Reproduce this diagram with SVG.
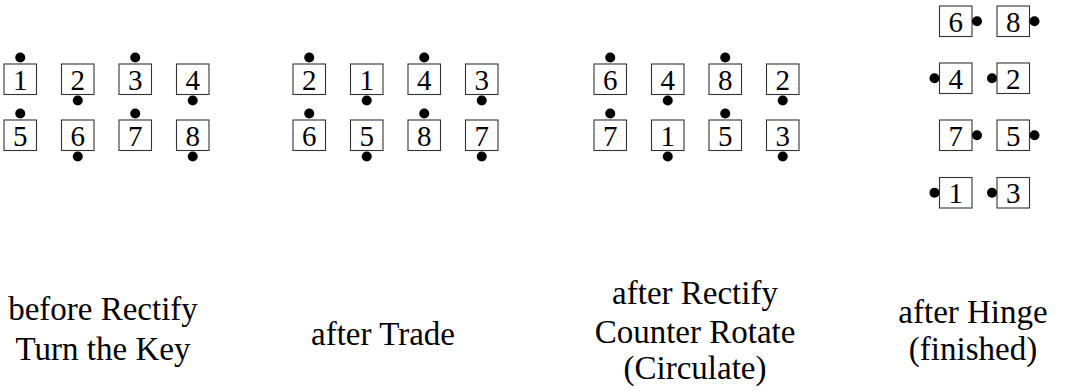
<svg xmlns="http://www.w3.org/2000/svg" width="1068" height="391" viewBox="0 0 1068 391">
<style>
.box{fill:#fff;stroke:#333;stroke-width:1.1}
.num{font-family:"Liberation Serif","DejaVu Serif",serif;font-size:29px;text-anchor:middle;fill:#000}
.dot{fill:#000}
.lbl{font-family:"Liberation Serif","DejaVu Serif",serif;font-size:33px;text-anchor:middle;fill:#000}
</style>
<defs>
<rect id="bx" class="box" x="0" y="0" width="32.5" height="30.5"/>
<circle id="dt" class="dot" cx="16.25" cy="-6.5" r="5"/>
<circle id="db" class="dot" cx="16.25" cy="36.5" r="5"/>
<circle id="dl" class="dot" cx="-5" cy="15.25" r="5"/>
<circle id="dr" class="dot" cx="37.5" cy="15.25" r="5"/>
</defs>
<g id="connectors"/>
<!-- group 1: before Rectify Turn the Key -->
<g id="g1-n1" transform="translate(4,64)"><use href="#bx"/><use href="#dt"/><text class="num" x="16.25" y="25.5">1</text></g>
<g id="g1-n2" transform="translate(61.5,64)"><use href="#bx"/><use href="#db"/><text class="num" x="16.25" y="25.5">2</text></g>
<g id="g1-n3" transform="translate(119,64)"><use href="#bx"/><use href="#dt"/><text class="num" x="16.25" y="25.5">3</text></g>
<g id="g1-n4" transform="translate(176.5,64)"><use href="#bx"/><use href="#db"/><text class="num" x="16.25" y="25.5">4</text></g>
<g id="g1-n5" transform="translate(4,120)"><use href="#bx"/><use href="#dt"/><text class="num" x="16.25" y="25.5">5</text></g>
<g id="g1-n6" transform="translate(61.5,120)"><use href="#bx"/><use href="#db"/><text class="num" x="16.25" y="25.5">6</text></g>
<g id="g1-n7" transform="translate(119,120)"><use href="#bx"/><use href="#dt"/><text class="num" x="16.25" y="25.5">7</text></g>
<g id="g1-n8" transform="translate(176.5,120)"><use href="#bx"/><use href="#db"/><text class="num" x="16.25" y="25.5">8</text></g>
<!-- group 2: after Trade -->
<g id="g2-n2" transform="translate(293,64)"><use href="#bx"/><use href="#dt"/><text class="num" x="16.25" y="25.5">2</text></g>
<g id="g2-n1" transform="translate(350.5,64)"><use href="#bx"/><use href="#db"/><text class="num" x="16.25" y="25.5">1</text></g>
<g id="g2-n4" transform="translate(408,64)"><use href="#bx"/><use href="#dt"/><text class="num" x="16.25" y="25.5">4</text></g>
<g id="g2-n3" transform="translate(465.5,64)"><use href="#bx"/><use href="#db"/><text class="num" x="16.25" y="25.5">3</text></g>
<g id="g2-n6" transform="translate(293,120)"><use href="#bx"/><use href="#dt"/><text class="num" x="16.25" y="25.5">6</text></g>
<g id="g2-n5" transform="translate(350.5,120)"><use href="#bx"/><use href="#db"/><text class="num" x="16.25" y="25.5">5</text></g>
<g id="g2-n8" transform="translate(408,120)"><use href="#bx"/><use href="#dt"/><text class="num" x="16.25" y="25.5">8</text></g>
<g id="g2-n7" transform="translate(465.5,120)"><use href="#bx"/><use href="#db"/><text class="num" x="16.25" y="25.5">7</text></g>
<!-- group 3: after Rectify Counter Rotate -->
<g id="g3-n6" transform="translate(594,64)"><use href="#bx"/><use href="#dt"/><text class="num" x="16.25" y="25.5">6</text></g>
<g id="g3-n4" transform="translate(651.5,64)"><use href="#bx"/><use href="#db"/><text class="num" x="16.25" y="25.5">4</text></g>
<g id="g3-n8" transform="translate(709,64)"><use href="#bx"/><use href="#dt"/><text class="num" x="16.25" y="25.5">8</text></g>
<g id="g3-n2" transform="translate(766.5,64)"><use href="#bx"/><use href="#db"/><text class="num" x="16.25" y="25.5">2</text></g>
<g id="g3-n7" transform="translate(594,120)"><use href="#bx"/><use href="#dt"/><text class="num" x="16.25" y="25.5">7</text></g>
<g id="g3-n1" transform="translate(651.5,120)"><use href="#bx"/><use href="#db"/><text class="num" x="16.25" y="25.5">1</text></g>
<g id="g3-n5" transform="translate(709,120)"><use href="#bx"/><use href="#dt"/><text class="num" x="16.25" y="25.5">5</text></g>
<g id="g3-n3" transform="translate(766.5,120)"><use href="#bx"/><use href="#db"/><text class="num" x="16.25" y="25.5">3</text></g>
<!-- group 4: after Hinge -->
<g id="g4-n6" transform="translate(939.5,6)"><use href="#bx"/><use href="#dr"/><text class="num" x="16.25" y="25.5">6</text></g>
<g id="g4-n8" transform="translate(997,6)"><use href="#bx"/><use href="#dr"/><text class="num" x="16.25" y="25.5">8</text></g>
<g id="g4-n4" transform="translate(939.5,63)"><use href="#bx"/><use href="#dl"/><text class="num" x="16.25" y="25.5">4</text></g>
<g id="g4-n2" transform="translate(997,63)"><use href="#bx"/><use href="#dl"/><text class="num" x="16.25" y="25.5">2</text></g>
<g id="g4-n7" transform="translate(939.5,120)"><use href="#bx"/><use href="#dr"/><text class="num" x="16.25" y="25.5">7</text></g>
<g id="g4-n5" transform="translate(997,120)"><use href="#bx"/><use href="#dr"/><text class="num" x="16.25" y="25.5">5</text></g>
<g id="g4-n1" transform="translate(939.5,177.5)"><use href="#bx"/><use href="#dl"/><text class="num" x="16.25" y="25.5">1</text></g>
<g id="g4-n3" transform="translate(997,177.5)"><use href="#bx"/><use href="#dl"/><text class="num" x="16.25" y="25.5">3</text></g>
<!-- labels -->
<g id="labels">
<text class="lbl" x="103" y="320">before Rectify</text>
<text class="lbl" x="103" y="360">Turn the Key</text>
<text class="lbl" x="383" y="345">after Trade</text>
<text class="lbl" x="695" y="304">after Rectify</text>
<text class="lbl" x="695" y="343">Counter Rotate</text>
<text class="lbl" x="695" y="379">(Circulate)</text>
<text class="lbl" x="973" y="323">after Hinge</text>
<text class="lbl" x="973" y="360">(finished)</text>
</g>
</svg>
